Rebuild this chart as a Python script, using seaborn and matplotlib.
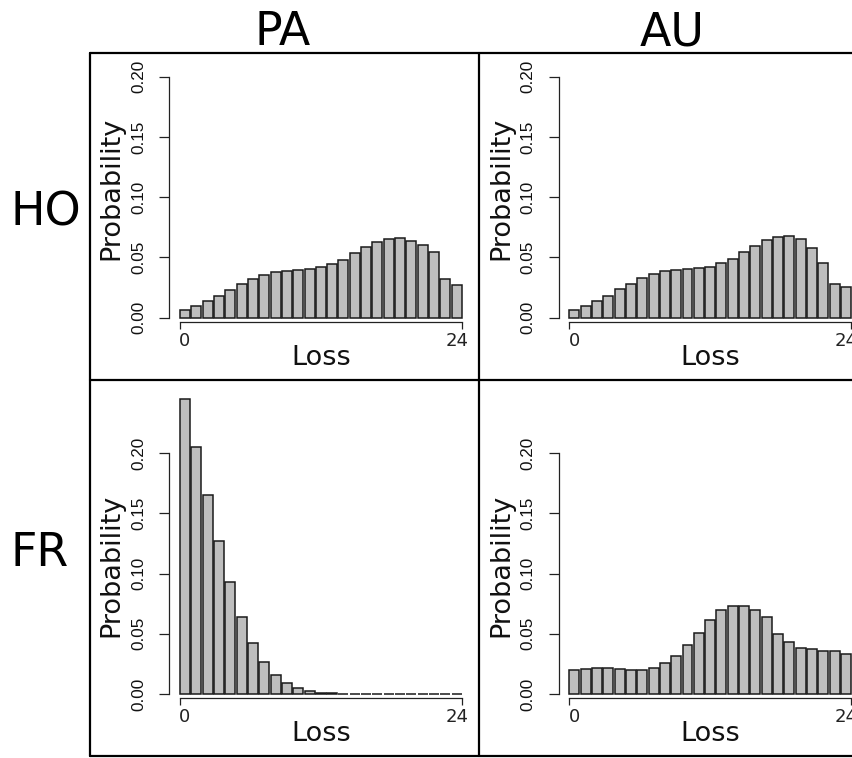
import matplotlib
matplotlib.use("Agg")
import matplotlib.pyplot as plt
from matplotlib.lines import Line2D
import pandas as pd
import seaborn as sns

# ---- data -------------------------------------------------------------
loss = list(range(25))

ho_pa = [0.0064, 0.0094, 0.0136, 0.0180, 0.0230, 0.0277, 0.0318, 0.0354,
         0.0376, 0.0390, 0.0396, 0.0401, 0.0418, 0.0443, 0.0481, 0.0534,
         0.0584, 0.0628, 0.0656, 0.0664, 0.0639, 0.0600, 0.0545, 0.0318,
         0.0268]
ho_au = [0.0066, 0.0097, 0.0138, 0.0183, 0.0235, 0.0282, 0.0326, 0.0360,
         0.0385, 0.0396, 0.0404, 0.0410, 0.0423, 0.0451, 0.0490, 0.0545,
         0.0598, 0.0642, 0.0670, 0.0678, 0.0653, 0.0575, 0.0456, 0.0277,
         0.0254]
fr_pa = [0.2445, 0.2053, 0.1649, 0.1267, 0.0927, 0.0642, 0.0423, 0.0263,
         0.0158, 0.0089, 0.0047, 0.0022, 0.0011, 0.0006, 0.0003, 0.0002,
         0.0001, 0.0001, 0.0001, 0.0000, 0.0000, 0.0000, 0.0000, 0.0000,
         0.0000]
fr_au = [0.0196, 0.0207, 0.0216, 0.0213, 0.0207, 0.0202, 0.0202, 0.0219,
         0.0254, 0.0318, 0.0404, 0.0509, 0.0614, 0.0694, 0.0733, 0.0733,
         0.0700, 0.0642, 0.0498, 0.0432, 0.0379, 0.0376, 0.0360, 0.0357,
         0.0329]

col_labels = ["PA", "AU"]
row_labels = ["HO", "FR"]
y_ticks = [0.00, 0.05, 0.10, 0.15, 0.20]
y_tick_labels = ["0.00", "0.05", "0.10", "0.15", "0.20"]
x_tick_values = [0, 24]
x_tick_labels = ["0", "24"]

panels = {(0, 0): ho_pa, (0, 1): ho_au, (1, 0): fr_pa, (1, 1): fr_au}

# ---- style ------------------------------------------------------------
sns.set_theme(style="white")
plt.rcParams["font.family"] = ["DejaVu Sans"]

W, H = 853, 758
fig = plt.figure(figsize=(W / 100, H / 100), dpi=100)

# panel grid (pixels from the top-left corner of the canvas)
LEFT, MID_X = 90, 479.3
COL_W = MID_X - LEFT
TOP, MID_Y, BOTTOM = 53, 380, 756
ZERO_OFF = [264.7, 314.0]          # distance from panel top to the y=0 line
BAR0_OFF = 95.0                    # distance from panel left to first bar centre
PX_BAR = 11.32                     # pixels per bar slot
PX_UNIT = 1205.0                   # pixels per probability unit
BAR_W = 0.88

row_edges = [(TOP, MID_Y), (MID_Y, BOTTOM)]

for (r, c), probs in panels.items():
    bx = LEFT + c * COL_W
    by, bb = row_edges[r]
    zero_y = by + ZERO_OFF[r]
    ax = fig.add_axes([bx / W, 1 - bb / H, COL_W / W, (bb - by) / H])
    ax.patch.set_alpha(0)

    df = pd.DataFrame({"Loss": loss, "Probability": probs})
    sns.barplot(data=df, x="Loss", y="Probability", ax=ax, color="#BEBEBE",
                saturation=1, width=BAR_W, edgecolor="#1a1a1a", linewidth=1.1)

    ax.set_xlim(-BAR0_OFF / PX_BAR, (COL_W - BAR0_OFF) / PX_BAR)
    ax.set_ylim((zero_y - bb) / PX_UNIT, (zero_y - by) / PX_UNIT)
    ax.set_xlabel("")
    ax.set_ylabel("")

    for s in ("top", "right"):
        ax.spines[s].set_visible(False)
    # y axis line
    ax.spines["left"].set_position(("data", (169.3 - LEFT - BAR0_OFF) / PX_BAR))
    ax.spines["left"].set_bounds(0, 0.2)
    ax.spines["left"].set_color("#222222")
    ax.spines["left"].set_linewidth(0.9)
    # x axis line below the bars
    half = BAR_W / 2
    ax.spines["bottom"].set_position(("data", -4.0 / PX_UNIT))
    ax.spines["bottom"].set_bounds(-half, loss[-1] + half)
    ax.spines["bottom"].set_color("#222222")
    ax.spines["bottom"].set_linewidth(0.9)

    ax.set_yticks(y_ticks, y_tick_labels, rotation=90, va="center")
    ax.tick_params(axis="y", which="major", direction="out", length=7.2,
                   width=0.9, color="#222222", pad=9.5, labelsize=12.3,
                   labelcolor="#111111", labelfontfamily="Liberation Sans",
                   left=True)

    ax.set_xticks([-half, loss[-1] + half], ["", ""])
    ax.set_xticks(x_tick_values, x_tick_labels, minor=True)
    ax.tick_params(axis="x", which="major", direction="out", length=4.8,
                   width=0.9, color="#222222", bottom=True)
    ax.tick_params(axis="x", which="minor", length=0, pad=7.5,
                   labelsize=13, labelcolor="#222222", bottom=True)

    ax.text((111.7 - LEFT - BAR0_OFF) / PX_BAR, 0.107, "Probability",
            rotation=90, ha="center", va="center", fontsize=19.5,
            color="#111111")
    ax.text(loss[len(loss) // 2], -0.0334, "Loss", ha="center",
            va="center", fontsize=19.5, color="#111111")

# panel frame
def px_line(xs, ys):
    fig.add_artist(Line2D([x / W for x in xs], [1 - y / H for y in ys],
                          color="black", linewidth=1.6,
                          transform=fig.transFigure))

for y in (TOP, MID_Y, BOTTOM):
    px_line([LEFT, W + 20], [y, y])
for x in (LEFT, MID_X):
    px_line([x, x], [TOP, BOTTOM])

# column and row headers
for c, lab in enumerate(col_labels):
    fig.text((LEFT + c * COL_W + COL_W / 2 - 2) / W, 1 - 45 / H, lab,
             ha="center", va="baseline", fontsize=33, color="black")
for r, (lab, base) in enumerate(zip(row_labels, [226, 566])):
    fig.text(11 / W, 1 - base / H, lab, ha="left", va="baseline",
             fontsize=33, color="black")

fig.savefig("out.png", dpi=100)
